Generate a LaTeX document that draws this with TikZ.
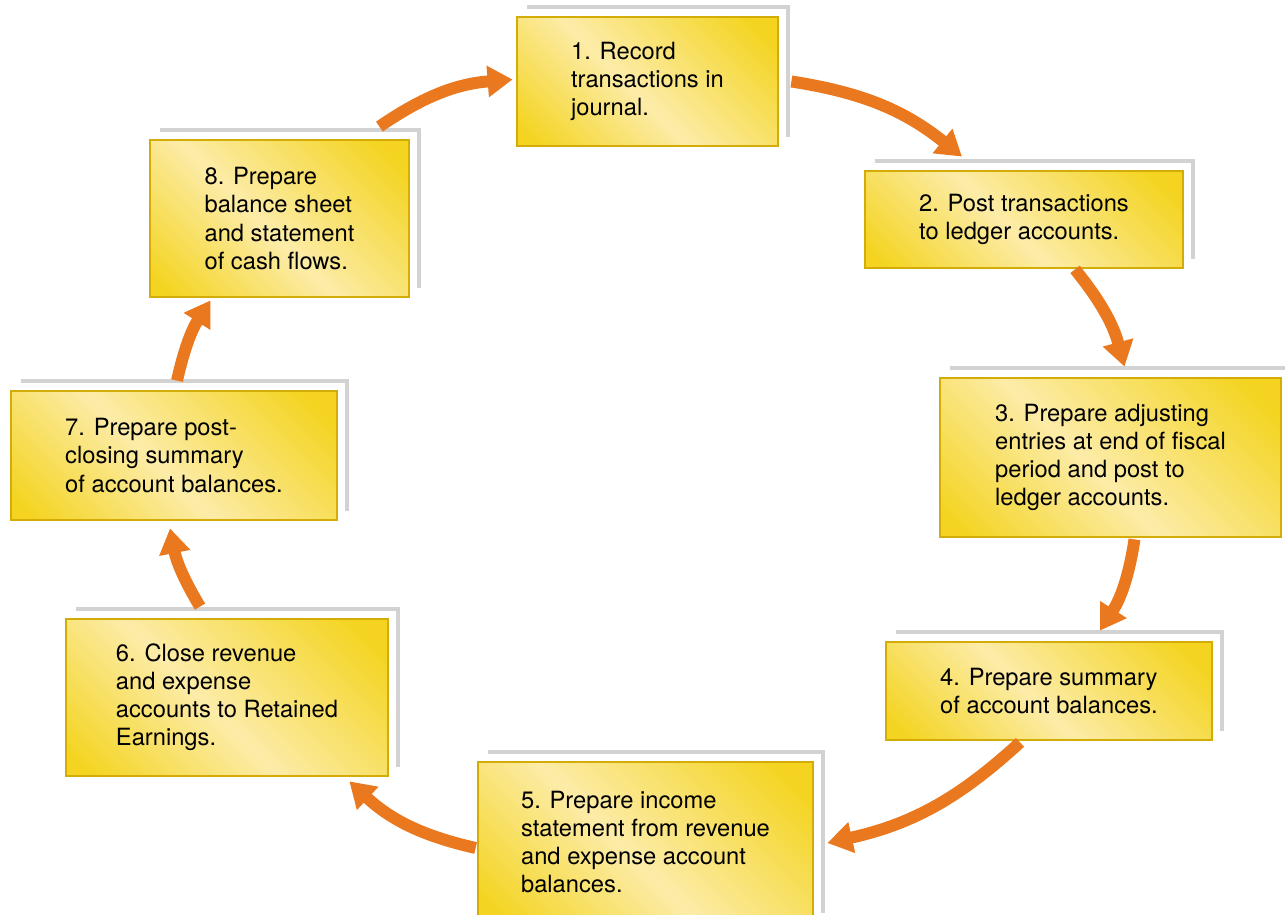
\documentclass[tikz,border=0pt]{standalone}
\usepackage{fontspec}
\setmainfont{TeX Gyre Heros}
\usetikzlibrary{arrows.meta}

\definecolor{cardgold}{RGB}{244,212,32}
\definecolor{cardlight}{RGB}{252,236,168}
\definecolor{cardedge}{RGB}{212,172,8}
\definecolor{arroworange}{RGB}{233,120,30}
\definecolor{shadowgray}{RGB}{210,210,210}

\pgfdeclarehorizontalshading{cardshade}{100bp}{color(0bp)=(cardgold); color(18bp)=(cardgold); color(46bp)=(cardlight); color(80bp)=(cardgold); color(100bp)=(cardgold)}

\tikzset{
	card/.style={rectangle, shading=cardshade, shading angle=45, draw=cardedge, line width=1.6pt,
		align=left, text=black, font=\fontsize{13.5}{16}\selectfont},
	cardshadow/.style={draw=shadowgray, line width=2.3pt},
	cycarrow/.style={draw=arroworange, line width=6.8pt, -{Triangle[length=0.5cm, width=0.6cm]}},
}

\begin{document}
\begin{tikzpicture}[x=0.02cm, y=0.02cm]
		\useasboundingbox (0,0) rectangle (1285,915);
		% steps of the cycle
		\node[card, minimum width=5.22cm, minimum height=2.58cm] (b1) at (647.5,833.5)
			{1. Record\\transactions in\\journal.};
		\node[card, minimum width=6.36cm, minimum height=1.94cm] (b2) at (1024,695.5)
			{2. Post transactions\\to ledger accounts.};
		\node[card, minimum width=6.82cm, minimum height=3.18cm] (b3) at (1110.5,457.5)
			{3. Prepare adjusting\\entries at end of fiscal\\period and post to\\ledger accounts.};
		\node[card, minimum width=6.52cm, minimum height=1.96cm] (b4) at (1049,224)
			{4. Prepare summary\\of account balances.};
		\node[card, minimum width=6.70cm, minimum height=3.20cm] (b5) at (645.5,73)
			{5. Prepare income\\statement from revenue\\and expense account\\balances.};
		\node[card, minimum width=6.44cm, minimum height=3.14cm] (b6) at (227,217.5)
			{6. Close revenue\\and expense\\accounts to Retained\\Earnings.};
		\node[card, minimum width=6.52cm, minimum height=2.58cm] (b7) at (174,459.5)
			{7. Prepare post-\\closing summary\\of account balances.};
		\node[card, minimum width=5.18cm, minimum height=3.14cm] (b8) at (279.5,696.5)
			{8. Prepare\\balance sheet\\and statement\\of cash flows.};

		% paper edges behind the cards
		\foreach \b in {b1,b2,b3,b4,b5,b6,b7,b8}
			\draw[cardshadow] ([shift={(11,9)}]\b.north west) -- ([shift={(9,9)}]\b.north east)
				-- ([shift={(9,10)}]\b.south east);

		% arrows
		\draw[cycarrow] ([shift={(-31,12)}]b8.north east) to[bend left=15] ([shift={(-3,2)}]b1.west);
		\draw[cycarrow] ([shift={(12,0)}]b1.east) to[bend left=15] ([shift={(-62,13)}]b2.north);
		\draw[cycarrow] ([shift={(51,0)}]b2.south) to[bend left=12] ([shift={(14,10)}]b3.north);
		\draw[cycarrow] ([shift={(24,-1)}]b3.south) to[bend left=12] ([shift={(51,10)}]b4.north);
		\draw[cycarrow] ([shift={(-29,-1)}]b4.south) to[bend left=15] ([shift={(13,-1)}]b5.east);
		\draw[cycarrow] ([shift={(-1,-6)}]b5.west) to[bend left=15] ([shift={(-40,-4)}]b6.south east);
		\draw[cycarrow] ([shift={(-27,11)}]b6.north) to[bend left=10] ([shift={(-4,-7)}]b7.south);
		\draw[cycarrow] ([shift={(3,9)}]b7.north) to[bend left=10] ([shift={(-69,-2)}]b8.south);

\end{tikzpicture}
\end{document}
